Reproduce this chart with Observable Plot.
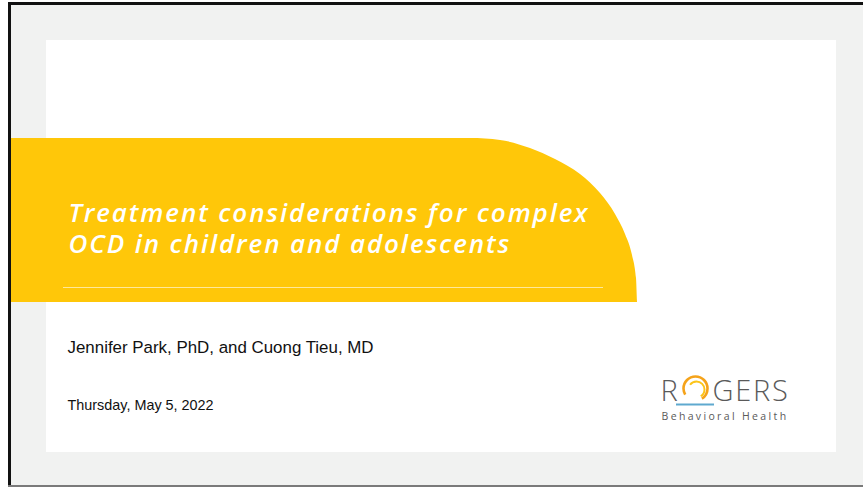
<!DOCTYPE html>
<html>
<head>
<meta charset="utf-8">
<script src="https://cdn.jsdelivr.net/npm/d3@7"></script>
<script src="https://cdn.jsdelivr.net/npm/@observablehq/plot@0.6"></script>
<style>
  html, body { margin: 0; padding: 0; background: #ffffff; overflow: hidden; }
  #chart svg { display: block; }
</style>
</head>
<body>
<div id="chart"></div>
<script>
// ---- Text content ----
const titleLines = ["Treatment considerations for complex", "OCD in children and adolescents"];
const authorLine = ["Jennifer Park, PhD, and Cuong Tieu, MD"];
const dateLine = ["Thursday, May 5, 2022"];
const logoLetters = ["R", "GERS"];
const logoSub = ["Behavioral Health"];

// ---- Slide layout (pixel space of the 863x487 slide) ----
const boxNames = ["page", "panel", "borderTop", "borderLeft", "borderBottom"];
const boxX1 = [8, 46, 8, 8, 8];
const boxX2 = [863, 836, 863, 11, 863];
const boxY1 = [2, 40, 2, 2, 485];
const boxY2 = [487, 452, 5, 487, 487];
const boxFill = ["#f1f2f1", "#ffffff", "#111111", "#111111", "#7a7a7a"];

// banner outline: flat top then rounded right end
const bannerX =   [11, 470, 500, 530, 555, 580, 600, 615, 625, 632, 636, 637];
const bannerTop = [138, 138, 140, 148, 159, 174, 193, 214, 234, 255, 278, 302];
const bannerBottom = 302;
const titleWidth = 519; // width of the first title line in the reference

const boxes = boxNames.map((n, i) => ({n, x1: boxX1[i], x2: boxX2[i], y1: boxY1[i], y2: boxY2[i], fill: boxFill[i]}));
const banner = bannerX.map((x, i) => ({x, y: bannerTop[i]}));

const spacing = new Map([
  [logoLetters[1], "1.8px"], [logoSub[0], "2.35px"]
]);

const svg = Plot.plot({
  width: 863,
  height: 487,
  margin: 0,
  style: {background: "transparent"},
  x: {domain: [0, 863], axis: null},
  y: {domain: [0, 487], reverse: true, axis: null},
  marks: [
    Plot.rect(boxes, {x1: "x1", x2: "x2", y1: "y1", y2: "y2", fill: "fill"}),
    Plot.areaY(banner, {x: "x", y1: bannerBottom, y2: "y", fill: "#ffc709", curve: "monotone-x"}),
    Plot.ruleY([287], {x1: 63, x2: 603, stroke: "#ffe89a", strokeWidth: 1}),
    Plot.text(titleLines, {
      x: 68, y: (d, i) => [221, 252][i], text: d => d,
      textAnchor: "start", lineAnchor: "bottom",
      fill: "#ffffff", fontSize: 26, fontStyle: "italic", fontWeight: 600,
      fontFamily: "'Open Sans', 'DejaVu Sans', sans-serif"
    }),
    Plot.text(authorLine, {
      x: 67, y: 352, text: d => d, textAnchor: "start", lineAnchor: "bottom",
      fill: "#111111", fontSize: 16.9, fontFamily: "'Liberation Sans', Arial, sans-serif"
    }),
    Plot.text(dateLine, {
      x: 67, y: 409, text: d => d, textAnchor: "start", lineAnchor: "bottom",
      fill: "#111111", fontSize: 14.4, fontFamily: "'Liberation Sans', Arial, sans-serif"
    }),
    Plot.text(logoLetters, {
      x: (d, i) => [660, 712][i], y: 400, text: d => d, textAnchor: "start", lineAnchor: "bottom",
      fill: "#5a5a5a", fontSize: 29, fontWeight: 300,
      fontFamily: "'Open Sans', Lato, sans-serif"
    }),
    Plot.text(logoSub, {
      x: 661, y: 419, text: d => d, textAnchor: "start", lineAnchor: "bottom",
      fill: "#5a5a5a", fontSize: 10.5,
      fontFamily: "'Open Sans', Lato, sans-serif"
    }),
    // sun "O" of the logo
    Plot.ruleY([404], {x1: 676, x2: 714, stroke: "#5fa9cf", strokeWidth: 2}),
    Plot.dot([0], {x: 695, y: 388, r: 12, fill: "none", stroke: "#f5a31a", strokeWidth: 2.6,
      strokeDasharray: "56 19", strokeDashoffset: -31}),
    Plot.dot([0], {x: 696, y: 389, r: 8, fill: "none", stroke: "#fcc419", strokeWidth: 2,
      strokeDasharray: "28 22", strokeDashoffset: -30})
  ]
});

document.getElementById("chart").appendChild(svg);
const texts = d3.select(svg).selectAll("text");
texts.each(function() {
  const s = spacing.get(this.textContent);
  if (s) this.setAttribute("letter-spacing", s);
});
// fit the title's tracking to the reference width of its first line
const titleNodes = texts.filter(function() { return titleLines.includes(this.textContent); }).nodes();
if (titleNodes.length) {
  const first = titleNodes.find(n => n.textContent === titleLines[0]);
  const len = first.getComputedTextLength();
  const ls = Math.max(0, (titleWidth - len) / (titleLines[0].length - 1));
  titleNodes.forEach(n => n.setAttribute("letter-spacing", ls.toFixed(2) + "px"));
}
</script>
</body>
</html>
